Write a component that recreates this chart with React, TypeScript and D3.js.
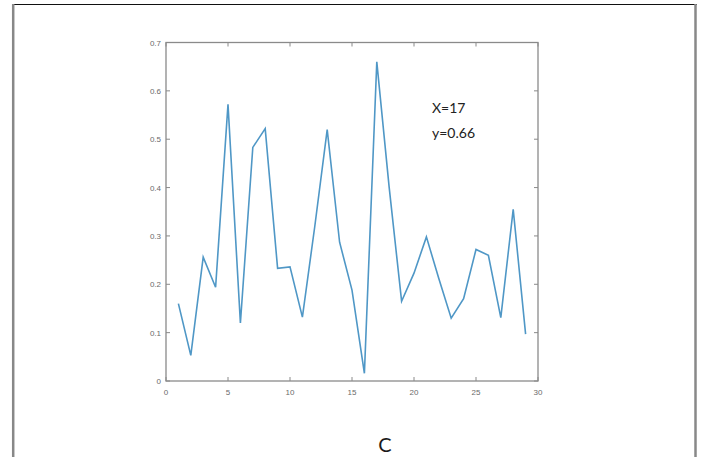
import React from "react";
import * as d3 from "d3";

// Sample index and measured response for each sample
const sampleIndex = [
  1, 2, 3, 4, 5, 6, 7, 8, 9, 10, 11, 12, 13, 14, 15, 16, 17, 18, 19, 20, 21, 22, 23, 24, 25, 26, 27, 28, 29,
];
const response = [
  0.16, 0.053, 0.256, 0.194, 0.572, 0.12, 0.483, 0.522, 0.233, 0.236, 0.132, 0.32, 0.52, 0.287, 0.188, 0.016,
  0.66, 0.4, 0.165, 0.223, 0.298, 0.212, 0.13, 0.17, 0.272, 0.26, 0.131, 0.355, 0.097,
];
const xTicks = [0, 5, 10, 15, 20, 25, 30];
const yTicks = [0, 0.1, 0.2, 0.3, 0.4, 0.5, 0.6, 0.7];
const noteLines = ["X=17", "y=0.66"];
const panelLabel = "C";

const W = 701;
const H = 457;
const plot = { left: 166, right: 538, top: 42.5, bottom: 381 };

export default function App() {
  const x = d3.scaleLinear().domain([0, 30]).range([plot.left, plot.right]);
  const y = d3.scaleLinear().domain([0, 0.7]).range([plot.bottom, plot.top]);
  const line = d3
    .line<number>()
    .x((_, i) => x(sampleIndex[i]))
    .y((d) => y(d));

  const axisColor = "#8a8a8a";
  const labelColor = "#6a6a6a";
  const tickLen = 4;

  return (
    <svg
      width={W}
      height={H}
      viewBox={`0 0 ${W} ${H}`}
      style={{ position: "absolute", left: 0, top: 0, background: "#fff" }}
    >
      {/* outer frame */}
      <line x1={12} y1={4.5} x2={697} y2={4.5} stroke="#111" strokeWidth={1.2} />
      <line x1={13.2} y1={4} x2={13.2} y2={H} stroke="#888" strokeWidth={2.5} />
      <line x1={695.5} y1={4} x2={695.5} y2={H} stroke="#888" strokeWidth={2.5} />

      {/* axes box */}
      <rect
        x={plot.left}
        y={plot.top}
        width={plot.right - plot.left}
        height={plot.bottom - plot.top}
        fill="none"
        stroke={axisColor}
        strokeWidth={1.3}
      />

      {/* x ticks (inward, bottom and top) */}
      {xTicks.map((t) => (
        <g key={`x${t}`}>
          <line x1={x(t)} x2={x(t)} y1={plot.bottom} y2={plot.bottom - tickLen} stroke={axisColor} />
          <line x1={x(t)} x2={x(t)} y1={plot.top} y2={plot.top + tickLen} stroke={axisColor} />
          <text
            x={x(t)}
            y={plot.bottom + 14}
            textAnchor="middle"
            fontFamily="Liberation Sans, Arial, sans-serif"
            fontSize={8}
            fill={labelColor}
          >
            {t}
          </text>
        </g>
      ))}

      {/* y ticks (inward, left and right) */}
      {yTicks.map((t) => (
        <g key={`y${t}`}>
          <line x1={plot.left} x2={plot.left + tickLen} y1={y(t)} y2={y(t)} stroke={axisColor} />
          <line x1={plot.right} x2={plot.right - tickLen} y1={y(t)} y2={y(t)} stroke={axisColor} />
          <text
            x={plot.left - 5}
            y={y(t) + 3}
            textAnchor="end"
            fontFamily="Liberation Sans, Arial, sans-serif"
            fontSize={8}
            fill={labelColor}
          >
            {d3.format(".1~f")(t)}
          </text>
        </g>
      ))}

      {/* data line */}
      <path d={line(response) ?? ""} fill="none" stroke="#4f97c6" strokeWidth={1.6} strokeLinejoin="miter" />

      {/* annotation */}
      {noteLines.map((s, i) => (
        <text
          key={s}
          x={432}
          y={112.5 + i * 25}
          fontFamily="Lato, Carlito, sans-serif"
          fontSize={14}
          fill="#222"
        >
          {s}
        </text>
      ))}

      {/* panel label */}
      <text
        x={385}
        y={452}
        textAnchor="middle"
        fontFamily="Lato, Carlito, sans-serif"
        fontSize={20}
        fill="#1a1a1a"
      >
        {panelLabel}
      </text>
    </svg>
  );
}
